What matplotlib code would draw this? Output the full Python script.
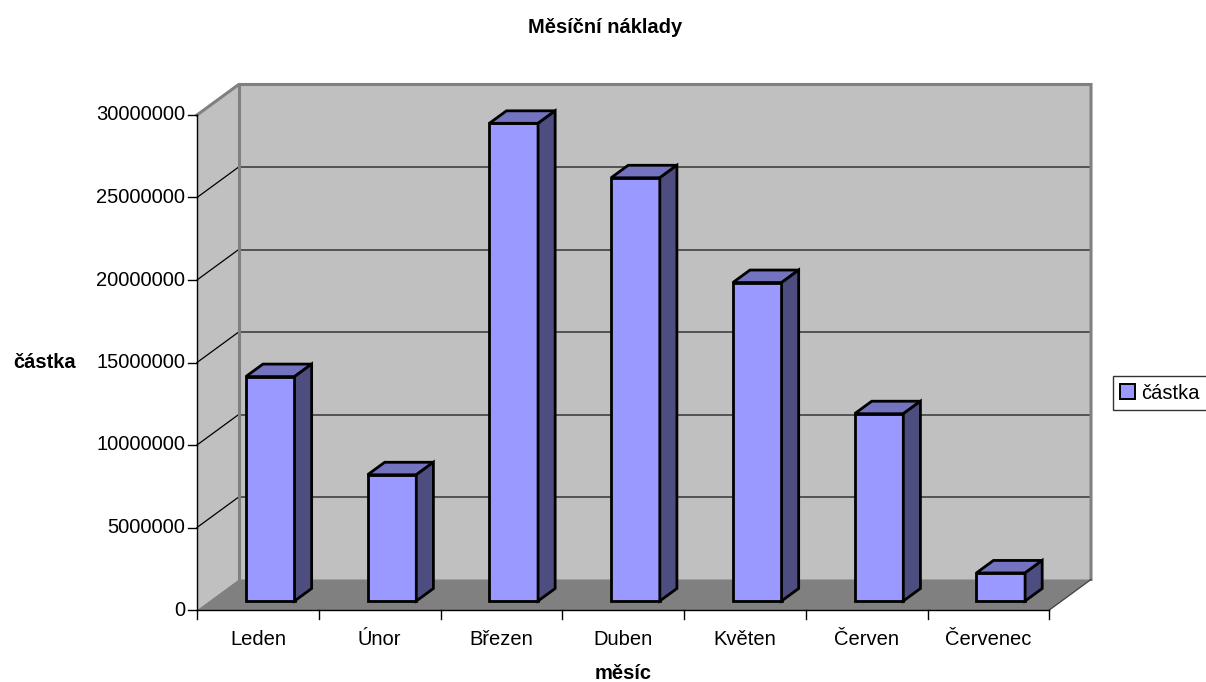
import matplotlib
matplotlib.use("Agg")
import matplotlib.pyplot as plt
from matplotlib.patches import Polygon

plt.rcParams['font.family'] = ['Liberation Sans', 'DejaVu Sans']

# Monthly costs
months = ["Leden", "Únor", "Březen", "Duben", "Květen", "Červen", "Červenec"]
amounts = [13600000, 7650000, 28950000, 25650000, 19300000, 11350000, 1700000]
y_ticks = [0, 5000000, 10000000, 15000000, 20000000, 25000000, 30000000]
y_max = 30000000

title = "Měsíční náklady"
x_title = "měsíc"
y_title = "částka"
series_name = "částka"

# Figure in pixel-like layout
W, H, DPI = 1206, 682, 100
fig = plt.figure(figsize=(W / DPI, H / DPI), dpi=DPI)
ax = fig.add_axes([0, 0, 1, 1])

# Scales: pixels per category and per value unit
px_cat = 121.76
px_val = 82.5 / 5000000
x0_px, y0_px = 197.0, 72.0          # front origin (category -0.5, value 0) from bottom-left
ax.set_xlim(-0.5 - x0_px / px_cat, -0.5 + (W - x0_px) / px_cat)
ax.set_ylim(-y0_px / px_val, (H - y0_px) / px_val)
ax.axis("off")

# Depth vector of the 3D box in data units
DX = 41.7 / px_cat
DY = 30.5 / px_val
n = len(months)
xl, xr = -0.5, n - 0.5

wall_c = "#c0c0c0"
floor_c = "#808080"
edge_c = "#808080"

# Back wall
ax.add_patch(Polygon([(xl + DX, DY), (xr + DX, DY), (xr + DX, y_max + DY), (xl + DX, y_max + DY)],
                     closed=True, facecolor=wall_c, edgecolor="none", zorder=1))
# Left side wall
ax.add_patch(Polygon([(xl, 0), (xl + DX, DY), (xl + DX, y_max + DY), (xl, y_max)],
                     closed=True, facecolor=wall_c, edgecolor="none", zorder=1))
# Floor
ax.add_patch(Polygon([(xl, 0), (xr, 0), (xr + DX, DY), (xl + DX, DY)],
                     closed=True, facecolor=floor_c, edgecolor="none", zorder=1))

# Gridlines on back wall and left wall
for v in y_ticks[1:-1]:
    ax.plot([xl + DX, xr + DX], [v + DY, v + DY], color="#4a4a4a", lw=1.3, zorder=2)
for v in y_ticks[1:]:
    ax.plot([xl, xl + DX], [v, v + DY], color="#000000", lw=0.9, zorder=2)

# Wall edges
ax.plot([xl + DX, xl + DX], [DY, y_max + DY], color=edge_c, lw=2.2, zorder=2)
ax.plot([xl, xl + DX, xr + DX, xr + DX], [y_max, y_max + DY, y_max + DY, DY],
        color=edge_c, lw=2.2, zorder=2, solid_joinstyle="miter")
ax.plot([xr, xr + DX], [0, DY], color="#404040", lw=0.9, zorder=2)

# 3D columns
bar_w = 0.4
d0, bd = 0.295, 0.41
front_c, top_c, side_c = "#9999ff", "#7373c0", "#4d4d80"
lw_bar = 2.0
for i, v in enumerate(amounts):
    left = i - bar_w / 2 + d0 * DX
    base = d0 * DY
    ax.bar(left, v, width=bar_w, bottom=base, align="edge", color=front_c,
           edgecolor="black", linewidth=lw_bar, zorder=3 + i * 0.01)
    top = [(left, base + v), (left + bar_w, base + v),
           (left + bar_w + bd * DX, base + v + bd * DY), (left + bd * DX, base + v + bd * DY)]
    side = [(left + bar_w, base), (left + bar_w + bd * DX, base + bd * DY),
            (left + bar_w + bd * DX, base + v + bd * DY), (left + bar_w, base + v)]
    ax.add_patch(Polygon(top, closed=True, facecolor=top_c, edgecolor="black",
                         lw=lw_bar, joinstyle="miter", zorder=3 + i * 0.01))
    ax.add_patch(Polygon(side, closed=True, facecolor=side_c, edgecolor="black",
                         lw=lw_bar, joinstyle="miter", zorder=3 + i * 0.01))

# Front axes
tick_len_x = 9 / px_cat
tick_len_y = 9 / px_val
ax.plot([xl, xl], [0, y_max], color="black", lw=1.0, zorder=4)
ax.plot([xl, xr], [0, 0], color="black", lw=1.0, zorder=4)
for v in y_ticks:
    ax.plot([xl - tick_len_x, xl], [v, v], color="black", lw=1.0, zorder=4)
    ax.text(xl - 12 / px_cat, v, f"{v}", ha="right", va="center", fontsize=14.5, zorder=5)
for k in range(n + 1):
    ax.plot([xl + k, xl + k], [0, -tick_len_y], color="black", lw=1.0, zorder=4)
for i, m in enumerate(months):
    ax.text(i, -35 / px_val, m, ha="center", va="baseline", fontsize=14.5, zorder=5)

# Titles
fig.text(605 / W, 1 - 33 / H, title, ha="center", va="baseline", fontsize=14.5, fontweight="bold")
fig.text(623 / W, 1 - 679 / H, x_title, ha="center", va="baseline", fontsize=14.5, fontweight="bold")
fig.text(45 / W, 1 - 363 / H, y_title, ha="center", va="center", fontsize=14.5, fontweight="bold")

# Legend
handle = Polygon([(0, 0)], facecolor=front_c, edgecolor="black", lw=1.4)
leg = fig.legend([handle], [series_name], loc="center left",
                 bbox_to_anchor=(1113 / W, 1 - 393 / H), fontsize=14.5,
                 frameon=True, fancybox=False, handlelength=0.75, handleheight=0.75,
                 handletextpad=0.3, borderpad=0.35, borderaxespad=0)
leg.get_frame().set_edgecolor("black")
leg.get_frame().set_linewidth(1.0)

fig.savefig("out.png", dpi=DPI)
